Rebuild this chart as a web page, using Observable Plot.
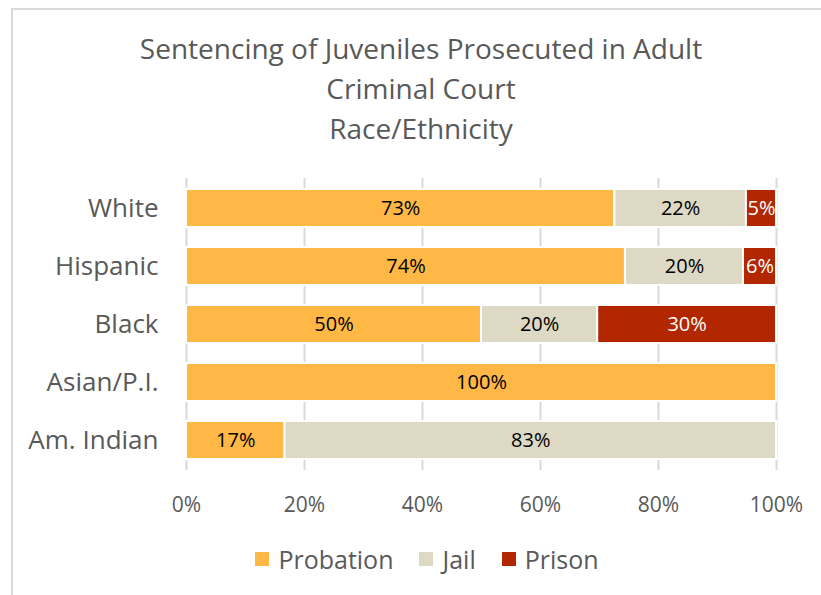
<!DOCTYPE html>
<html>
<head>
<meta charset="utf-8">
<script src="https://cdn.jsdelivr.net/npm/d3@7"></script>
<script src="https://cdn.jsdelivr.net/npm/@observablehq/plot@0.6"></script>
<style>
  html, body { margin: 0; padding: 0; background: #fff; }
  body { width: 821px; height: 595px; overflow: hidden; position: relative; font-family: "Open Sans", Lato, sans-serif; }
  #frame { position: absolute; left: 11px; top: 8px; width: 830px; height: 620px; border-left: 2px solid #d9d9d9; border-top: 2px solid #d9d9d9; box-sizing: border-box; }
  #title { position: absolute; left: 0; top: 28px; width: 842px; text-align: center; color: #595959; font-size: 28px; line-height: 40px; }
  #chart { position: absolute; left: 0; top: 170px; }
  #legend { position: absolute; left: 0; top: 542px; width: 854px; display: flex; justify-content: center; align-items: center; color: #595959; font-size: 25px; }
  .item { display: flex; align-items: center; margin: 0 13px; }
  .sw { width: 14px; height: 14px; margin-right: 9px; }
</style>
</head>
<body>
<div id="frame"></div>
<div id="title">Sentencing of Juveniles Prosecuted in Adult<br>Criminal Court<br>Race/Ethnicity</div>
<div id="chart"></div>
<div id="legend"></div>
<script>
const groups = ["White", "Hispanic", "Black", "Asian/P.I.", "Am. Indian"];
const outcomes = ["Probation", "Jail", "Prison"];
const probation = [72.6, 74.4, 50.0, 100, 16.7];
const jail = [22.3, 20.0, 19.7, 0, 83.3];
const prison = [5.1, 5.6, 30.3, 0, 0];
const labels = {
  Probation: ["73%", "74%", "50%", "100%", "17%"],
  Jail: ["22%", "20%", "20%", "", "83%"],
  Prison: ["5%", "6%", "30%", "", ""]
};
const colors = ["#FFB845", "#DDD9C4", "#B22600"];
const ticks = [0, 20, 40, 60, 80, 100];

const series = {Probation: probation, Jail: jail, Prison: prison};
const data = [];
groups.forEach((g, i) => {
  outcomes.forEach(o => {
    data.push({group: g, outcome: o, value: series[o][i], label: labels[o][i]});
  });
});
const rows = data.filter(d => d.value > 0);

const plot = Plot.plot({
  width: 821,
  height: 368,
  marginLeft: 186,
  marginRight: 45,
  marginTop: 8,
  marginBottom: 68,
  style: {fontFamily: "'Open Sans', Lato, sans-serif", background: "transparent", overflow: "visible"},
  x: {domain: [0, 100], label: null},
  y: {domain: groups, paddingInner: 0.35, paddingOuter: 0.175, label: null},
  color: {domain: outcomes, range: colors},
  marks: [
    Plot.ruleX(ticks, {stroke: "#d9d9d9", strokeWidth: 2, strokeOpacity: 1}),
    Plot.barX(rows, Plot.stackX({y: "group", x: "value", fill: "outcome", order: outcomes, stroke: "#fff", strokeWidth: 2})),
    Plot.text(rows, Plot.stackX({y: "group", x: "value", order: outcomes, text: "label",
      fill: d => d.outcome === "Prison" ? "#fff" : "#000", fontSize: 20})),
    Plot.axisX({ticks: ticks, tickFormat: d => d + "%", tickSize: 0, tickPadding: 27, fontSize: 21, color: "#595959", label: null}),
    Plot.axisY({tickSize: 0, tickPadding: 28, fontSize: 26, color: "#595959", label: null})
  ]
});
document.getElementById("chart").appendChild(plot);

const legend = document.getElementById("legend");
outcomes.forEach((o, i) => {
  const item = document.createElement("div");
  item.className = "item";
  const sw = document.createElement("div");
  sw.className = "sw";
  sw.style.background = colors[i];
  const t = document.createElement("span");
  t.textContent = o;
  item.appendChild(sw);
  item.appendChild(t);
  legend.appendChild(item);
});
</script>
</body>
</html>
